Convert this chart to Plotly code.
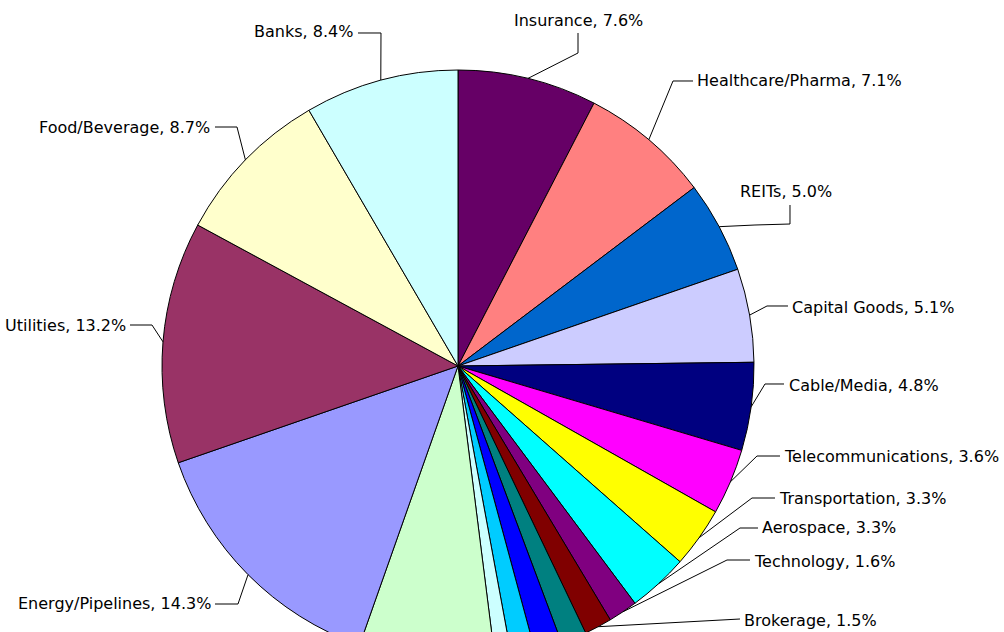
import math
import plotly.graph_objects as go

# Sector weights (percent of portfolio), clockwise from 12 o'clock
sectors = [
    "Insurance", "Healthcare/Pharma", "REITs", "Capital Goods", "Cable/Media",
    "Telecommunications", "Transportation", "Aerospace", "Technology", "Brokerage",
    "Chemicals", "Retail", "Gaming", "Paper/Packaging", "Consumer Products",
    "Energy/Pipelines", "Utilities", "Food/Beverage", "Banks",
]
weights = [
    7.6, 7.1, 5.0, 5.1, 4.8,
    3.6, 3.3, 3.3, 1.6, 1.5,
    1.4, 1.5, 1.3, 0.9, 7.4,
    14.3, 13.2, 8.7, 8.4,
]
colors = [
    "#660066", "#FF8080", "#0066CC", "#CCCCFF", "#000080",
    "#FF00FF", "#FFFF00", "#00FFFF", "#800080", "#800000",
    "#008080", "#0000FF", "#00CCFF", "#CCFFFF", "#CCFFCC",
    "#9999FF", "#993366", "#FFFFCC", "#CCFFFF",
]

# ---- layout geometry (pixels) ----
FIG_W, FIG_H = 1004, 700
CX, CY, R = 458, 366, 296


def px(x, y):
    return x / FIG_W, 1 - y / FIG_H


# label placement: text anchor point, alignment, and leader elbow points
label_layout = {
    "Insurance":          dict(x=512, y=20,  anchor="left",  elbow=[(578, 53), (578, 33)]),
    "Healthcare/Pharma":  dict(x=695, y=81,  anchor="left",  elbow=[(673, 81), (693, 81)]),
    "REITs":              dict(x=738, y=191, anchor="left",  elbow=[(755, 225), (790, 224), (790, 205)]),
    "Capital Goods":      dict(x=790, y=307, anchor="left",  elbow=[(767, 306), (788, 306)]),
    "Cable/Media":        dict(x=787, y=385, anchor="left",  elbow=[(765, 384), (784, 384)]),
    "Telecommunications": dict(x=782, y=456, anchor="left",  elbow=[(757, 456), (780, 456)]),
    "Transportation":     dict(x=777, y=498, anchor="left",  elbow=[(752, 498), (775, 498)]),
    "Aerospace":          dict(x=760, y=527, anchor="left",  elbow=[(740, 528), (758, 528)]),
    "Technology":         dict(x=752, y=561, anchor="left",  elbow=[(727, 560), (750, 560)]),
    "Brokerage":          dict(x=742, y=620, anchor="left",  elbow=[(740, 619)]),
    "Energy/Pipelines":   dict(x=213, y=603, anchor="right", elbow=[(238, 604), (215, 604)]),
    "Utilities":          dict(x=128, y=325, anchor="right", elbow=[(152, 325), (130, 325)]),
    "Food/Beverage":      dict(x=212, y=127, anchor="right", elbow=[(237, 127), (215, 127)]),
    "Banks":              dict(x=355, y=32,  anchor="right", elbow=[(381, 33), (358, 33)]),
}

x0, y1 = px(CX - R, CY - R)
x1, y0 = px(CX + R, CY + R)

fig = go.Figure(
    go.Pie(
        labels=sectors,
        values=weights,
        sort=False,
        direction="clockwise",
        rotation=0,
        marker=dict(colors=colors, line=dict(color="black", width=1)),
        textinfo="none",
        hoverinfo="label+percent",
        domain=dict(x=[x0, x1], y=[y0, y1]),
        showlegend=False,
    )
)

total = sum(weights)
shapes, annotations = [], []
cum = 0.0
for name, w in zip(sectors, weights):
    mid = 2 * math.pi * (cum + w / 2) / total
    cum += w
    if name not in label_layout:
        continue
    spec = label_layout[name]
    ex, ey = CX + R * math.sin(mid), CY - R * math.cos(mid)
    pts = [(ex, ey)] + spec["elbow"]
    path = ""
    for i, (px_, py_) in enumerate(pts):
        a, b = px(px_, py_)
        path += ("M" if i == 0 else " L") + f" {a:.5f} {b:.5f}"
    shapes.append(dict(type="path", path=path, xref="paper", yref="paper",
                       line=dict(color="black", width=1)))
    ax, ay = px(spec["x"], spec["y"])
    annotations.append(dict(
        x=ax, y=ay, xref="paper", yref="paper", showarrow=False,
        xanchor=spec["anchor"], yanchor="middle",
        text=f"{name}, {w:.1f}%",
        font=dict(family="DejaVu Sans", size=16, color="black"),
    ))

fig.update_layout(
    width=FIG_W, height=FIG_H, autosize=False,
    margin=dict(l=0, r=0, t=0, b=0),
    paper_bgcolor="white", plot_bgcolor="white",
    shapes=shapes, annotations=annotations,
)

fig.write_html(
    "out.html",
    config={"displayModeBar": False},
    post_script=(
        "document.documentElement.style.overflow='hidden';"
        "document.body.style.overflow='hidden';"
        "document.body.style.margin='0';"
    ),
)
